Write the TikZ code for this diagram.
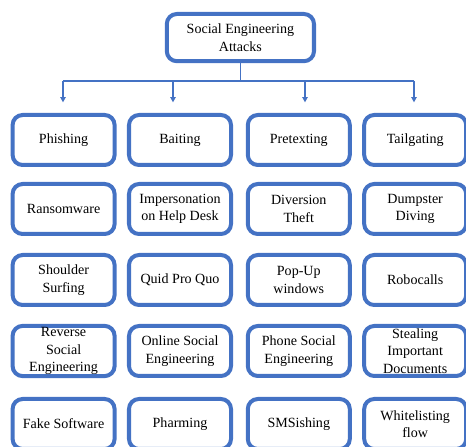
\documentclass[tikz,border=0pt]{standalone}
\usepackage{xcolor}
\usepackage{fontspec}
\setmainfont{Liberation Serif}
\usetikzlibrary{arrows.meta}

\definecolor{boxblue}{HTML}{4472C4}

\tikzset{
	cell/.style={draw=boxblue, line width=0.1cm, rounded corners=0.25cm, fill=white,
		minimum width=2.55cm, minimum height=1.25cm, align=center, inner sep=1pt,
		font=\fontsize{10}{12.5}\selectfont},
	branch/.style={draw=boxblue, line width=1.1pt},
	tip/.style={branch, -{Triangle[length=1.3mm, width=1.3mm]}}
}

\begin{document}
\begin{tikzpicture}
	\useasboundingbox (0, 0) rectangle (11.65, -11.175);

	\node[cell, minimum width=3.68cm, minimum height=1.18cm] (root) at (6.01, -0.94) {Social Engineering\\Attacks};

	% row 1
	\node[cell] (phish) at (1.59, -3.5) {Phishing};
	\node[cell] (bait) at (4.5, -3.5) {Baiting};
	\node[cell] (pretext) at (7.47, -3.5) {Pretexting};
	\node[cell] (tail) at (10.38, -3.5) {Tailgating};

	% row 2
	\node[cell] (ransom) at (1.59, -5.225) {Ransomware};
	\node[cell] (helpdesk) at (4.5, -5.225) {Impersonation\\on Help Desk};
	\node[cell] (diversion) at (7.47, -5.225) {Diversion\\Theft};
	\node[cell] (dumpster) at (10.38, -5.225) {Dumpster\\Diving};

	% row 3
	\node[cell] (shoulder) at (1.59, -7.0) {Shoulder\\Surfing};
	\node[cell] (quid) at (4.5, -7.0) {Quid Pro Quo};
	\node[cell] (popup) at (7.47, -7.0) {Pop-Up\\windows};
	\node[cell] (robo) at (10.38, -7.0) {Robocalls};

	% row 4
	\node[cell] (reverse) at (1.59, -8.775) {Reverse\\Social\\Engineering};
	\node[cell] (online) at (4.5, -8.775) {Online Social\\Engineering};
	\node[cell] (phone) at (7.47, -8.775) {Phone Social\\Engineering};
	\node[cell] (stealing) at (10.38, -8.775) {Stealing\\Important\\Documents};

	% row 5
	\node[cell] (fake) at (1.59, -10.6) {Fake Software};
	\node[cell] (pharm) at (4.5, -10.6) {Pharming};
	\node[cell] (sms) at (7.47, -10.6) {SMSishing};
	\node[cell] (white) at (10.38, -10.6) {Whitelisting\\flow};

	% Draw the branches from the root
	\coordinate (trunk) at (6.01, -2.025);
	\coordinate (b1) at (1.575, -2.025);
	\coordinate (b2) at (4.325, -2.025);
	\coordinate (b3) at (7.625, -2.025);
	\coordinate (b4) at (10.35, -2.025);
	\coordinate (t1) at (1.575, -2.56);
	\coordinate (t2) at (4.325, -2.56);
	\coordinate (t3) at (7.625, -2.56);
	\coordinate (t4) at (10.35, -2.56);

	\draw[branch] (root.south) -- (trunk);
	\draw[branch] (b1) -- (b4);
	\draw[tip] (b1) -- (t1);
	\draw[tip] (b2) -- (t2);
	\draw[tip] (b3) -- (t3);
	\draw[tip] (b4) -- (t4);
\end{tikzpicture}
\end{document}
